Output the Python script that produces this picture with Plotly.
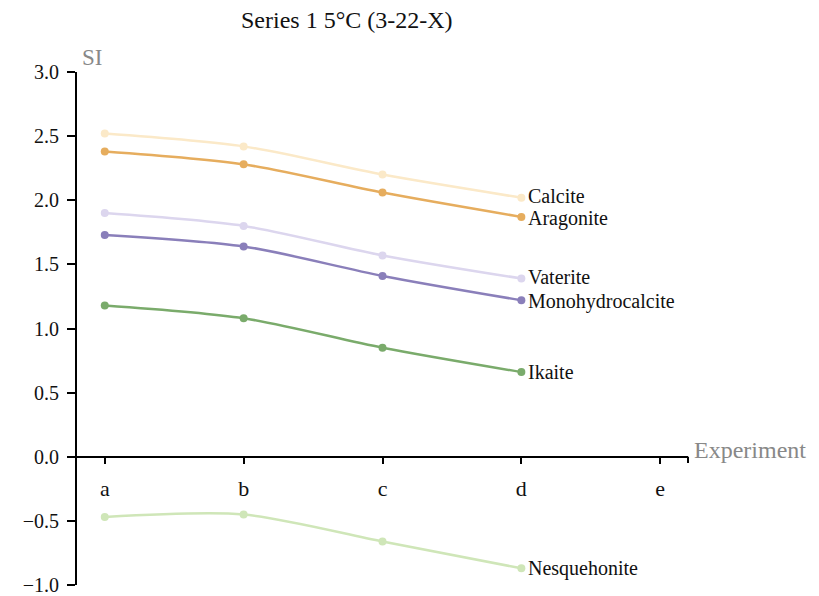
import plotly.graph_objects as go

categories = ["a", "b", "c", "d", "e"]
series_names = ["Calcite", "Aragonite", "Vaterite", "Monohydrocalcite", "Ikaite", "Nesquehonite"]
calcite = [2.52, 2.42, 2.20, 2.02]
aragonite = [2.38, 2.28, 2.06, 1.87]
vaterite = [1.90, 1.80, 1.57, 1.39]
monohydrocalcite = [1.73, 1.64, 1.41, 1.22]
ikaite = [1.18, 1.08, 0.85, 0.66]
nesquehonite = [-0.47, -0.45, -0.66, -0.87]
colors = ["#fbe9c8", "#e6ad5e", "#dcd6ee", "#8a7fba", "#7aab6b", "#cfe6b8"]

values = [calcite, aragonite, vaterite, monohydrocalcite, ikaite, nesquehonite]
FONT = "Liberation Serif"
# small vertical nudges (px) for the end labels so close neighbours do not collide
label_nudge = {"Calcite": 2, "Aragonite": -2, "Vaterite": 1, "Monohydrocalcite": -1}

fig = go.Figure()
label_annotations = []
for name, vals, col in zip(series_names, values, colors):
    n = len(vals)
    fig.add_trace(go.Scatter(
        x=list(range(n)), y=vals,
        mode="lines+markers",
        line=dict(color=col, width=2.5, shape="spline", smoothing=0.8),
        marker=dict(color=col, size=8),
        showlegend=False, cliponaxis=False,
    ))
    label_annotations.append(dict(
        text=name, x=n - 1, y=vals[-1], xref="x", yref="y",
        xanchor="left", yanchor="middle", xshift=5, yshift=label_nudge.get(name, 0),
        showarrow=False, font=dict(family=FONT, size=20, color="#111"),
    ))

fig.update_layout(
    width=819, height=596,
    margin=dict(l=77, r=131, t=72, b=11, autoexpand=False),
    plot_bgcolor="white", paper_bgcolor="white",
    font=dict(family=FONT, size=21, color="#111"),
    xaxis=dict(
        range=[-0.2, 4.2], tickmode="array", tickvals=list(range(len(categories))),
        ticktext=categories, showgrid=False, zeroline=False,
        showline=True, linecolor="black", linewidth=2,
        ticks="outside", ticklen=6, tickwidth=2, tickcolor="black",
        anchor="free", position=0.25, tickfont=dict(size=22),
        automargin=False, ticklabelstandoff=6,
    ),
    yaxis=dict(
        range=[-1, 3], tickvals=[-1, -0.5, 0, 0.5, 1, 1.5, 2, 2.5, 3],
        tickformat=".1f", showgrid=False, zeroline=False,
        showline=True, linecolor="black", linewidth=2,
        ticks="outside", ticklen=8, tickwidth=2, tickcolor="black",
        tickfont=dict(size=20), automargin=False, ticklabelstandoff=4,
        ticklabeloverflow="allow",
    ),
    annotations=label_annotations + [
        dict(text="Series 1 5°C (3-22-X)", xref="paper", x=(347 - 77) / 611, yref="paper",
             y=1.0, yshift=52, yanchor="middle",
             showarrow=False, font=dict(size=24, color="#111")),
        dict(text="SI", xref="paper", yref="paper", x=0.005, y=1.0, xanchor="left", yanchor="bottom",
             showarrow=False, font=dict(size=23, color="#888")),
        dict(text="Experiment", xref="paper", yref="paper", x=1.006, y=0.25, xanchor="left",
             yanchor="middle", yshift=7, showarrow=False, font=dict(size=24, color="#888")),
    ],
)
fig.add_shape(type="line", xref="paper", yref="paper", x0=1, x1=1, y0=0.25, y1=0.238,
              line=dict(color="black", width=2))
fig.write_html("out.html")
